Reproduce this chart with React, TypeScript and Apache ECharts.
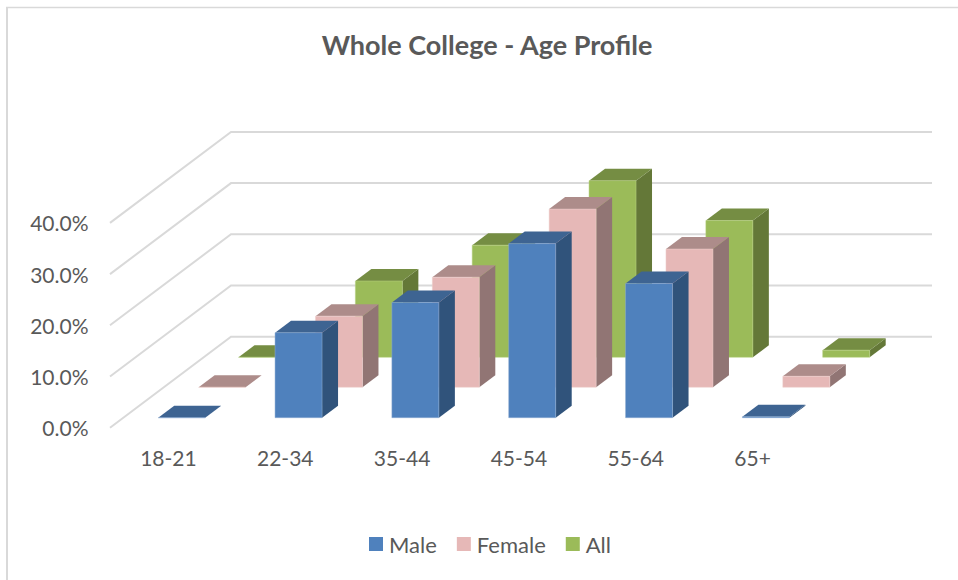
import React, { useEffect, useRef } from "react";
import * as echarts from "echarts";

const categories = ["18-21", "22-34", "35-44", "45-54", "55-64", "65+"];
const maleValues = [0, 16.6, 22.5, 34.0, 26.2, 0.2];
const femaleValues = [0, 13.9, 21.5, 34.8, 27.0, 2.15];
const allValues = [0, 14.9, 21.9, 34.5, 26.7, 1.4];
const tickValues = [0, 10, 20, 30, 40];

const FONT = "Lato, 'Open Sans', sans-serif";
const TEXT = "#595959";
const GRID_LINE = "#d9d9d9";
const FLOOR = { dx: 121, dy: -91 };
const BAR = { width: 47, dx: 16, dy: -12 };

function barSeries(
  name: string,
  values: number[],
  depth: number,
  z: number,
  c: { front: string; top: string; side: string; edge: string }
) {
  return {
    type: "custom",
    name,
    z,
    silent: true,
    itemStyle: { color: c.front },
    encode: { x: 0, y: 1 },
    data: values.map((v, i) => [i, v]),
    renderItem: (_p: any, api: any) => {
      const base = api.coord([api.value(0), 0]);
      const head = api.coord([api.value(0), api.value(1)]);
      const ox = (FLOOR.dx * depth) / -FLOOR.dy;
      const x0 = base[0] + ox - BAR.width / 2;
      const x1 = x0 + BAR.width;
      const yb = base[1] - depth;
      const yt = head[1] - depth;
      const { dx, dy } = BAR;
      return {
        type: "group",
        children: [
          {
            type: "polygon",
            shape: { points: [[x1, yb], [x1 + dx, yb + dy], [x1 + dx, yt + dy], [x1, yt]] },
            style: { fill: c.side },
          },
          {
            type: "polygon",
            shape: { points: [[x0, yt], [x1, yt], [x1 + dx, yt + dy], [x0 + dx, yt + dy]] },
            style: { fill: c.top },
          },
          {
            type: "rect",
            shape: { x: x0, y: yt, width: BAR.width, height: yb - yt },
            style: { fill: c.front, stroke: c.edge, lineWidth: 0.5 },
          },
        ],
      };
    },
  };
}

export default function App() {
  const ref = useRef<HTMLDivElement>(null);
  useEffect(() => {
    const chart = echarts.init(ref.current!, undefined, { renderer: "svg" });
    chart.setOption({
      animation: false,
      backgroundColor: "#ffffff",
      title: {
        text: "Whole College - Age Profile",
        left: 482,
        top: 26,
        textAlign: "center",
        textStyle: { fontFamily: FONT, fontSize: 27, fontWeight: "bold", color: TEXT },
      },
      legend: {
        left: 369,
        top: 533,
        padding: 0,
        icon: "rect",
        itemWidth: 14,
        itemHeight: 14,
        itemGap: 20,
        data: ["Male", "Female", "All"],
        selectedMode: false,
        textStyle: { fontFamily: FONT, fontSize: 22, color: TEXT, padding: [0, 0, 0, 1] },
      },
      grid: { left: 110, right: 147, top: 222.9, bottom: 152.3, containLabel: false },
      xAxis: {
        type: "category",
        data: categories,
        axisLine: { show: false },
        axisTick: { show: false },
        splitLine: { show: false },
        axisLabel: { color: TEXT, fontFamily: FONT, fontSize: 21, margin: 19 },
      },
      yAxis: {
        type: "value",
        min: 0,
        max: 40,
        interval: 10,
        axisLine: { show: false },
        axisTick: { show: false },
        splitLine: { show: false },
        axisLabel: {
          color: TEXT,
          fontFamily: FONT,
          fontSize: 21,
          margin: 21.5,
          formatter: (v: number) => `${v.toFixed(1)}%`,
        },
      },
      graphic: [
        { type: "line", shape: { x1: 6, y1: 7.5, x2: 958, y2: 7.5 }, style: { stroke: GRID_LINE, lineWidth: 1.5 } },
        { type: "line", shape: { x1: 7, y1: 7, x2: 7, y2: 580 }, style: { stroke: GRID_LINE, lineWidth: 2 } },
      ],
      series: [
        {
          type: "custom",
          name: "walls",
          z: 1,
          silent: true,
          encode: { y: 0 },
          data: tickValues.map((v) => [v]),
          renderItem: (params: any, api: any) => {
            const cs = params.coordSys;
            const y = api.coord([0, api.value(0)])[1];
            return {
              type: "polyline",
              shape: {
                points: [
                  [cs.x, y],
                  [cs.x + FLOOR.dx, y + FLOOR.dy],
                  [cs.x + cs.width + FLOOR.dx, y + FLOOR.dy],
                ],
              },
              style: { stroke: GRID_LINE, lineWidth: 2, fill: "none" },
            };
          },
        },
        barSeries("Male", maleValues, 10, 5, { front: "#4f81bd", top: "#3e6492", side: "#30537b", edge: "#8fadd2" }),
        barSeries("Female", femaleValues, 40.4, 4, { front: "#e6b8b7", top: "#ad8c8a", side: "#917574", edge: "#efd0cf" }),
        barSeries("All", allValues, 70.4, 3, { front: "#9bbb59", top: "#758d43", side: "#647838", edge: "#b9d183" }),
      ],
    });
    return () => chart.dispose();
  }, []);
  return (
    <div
      ref={ref}
      style={{ position: "absolute", left: 0, top: 0, width: 958, height: 580, background: "#fff" }}
    />
  );
}
